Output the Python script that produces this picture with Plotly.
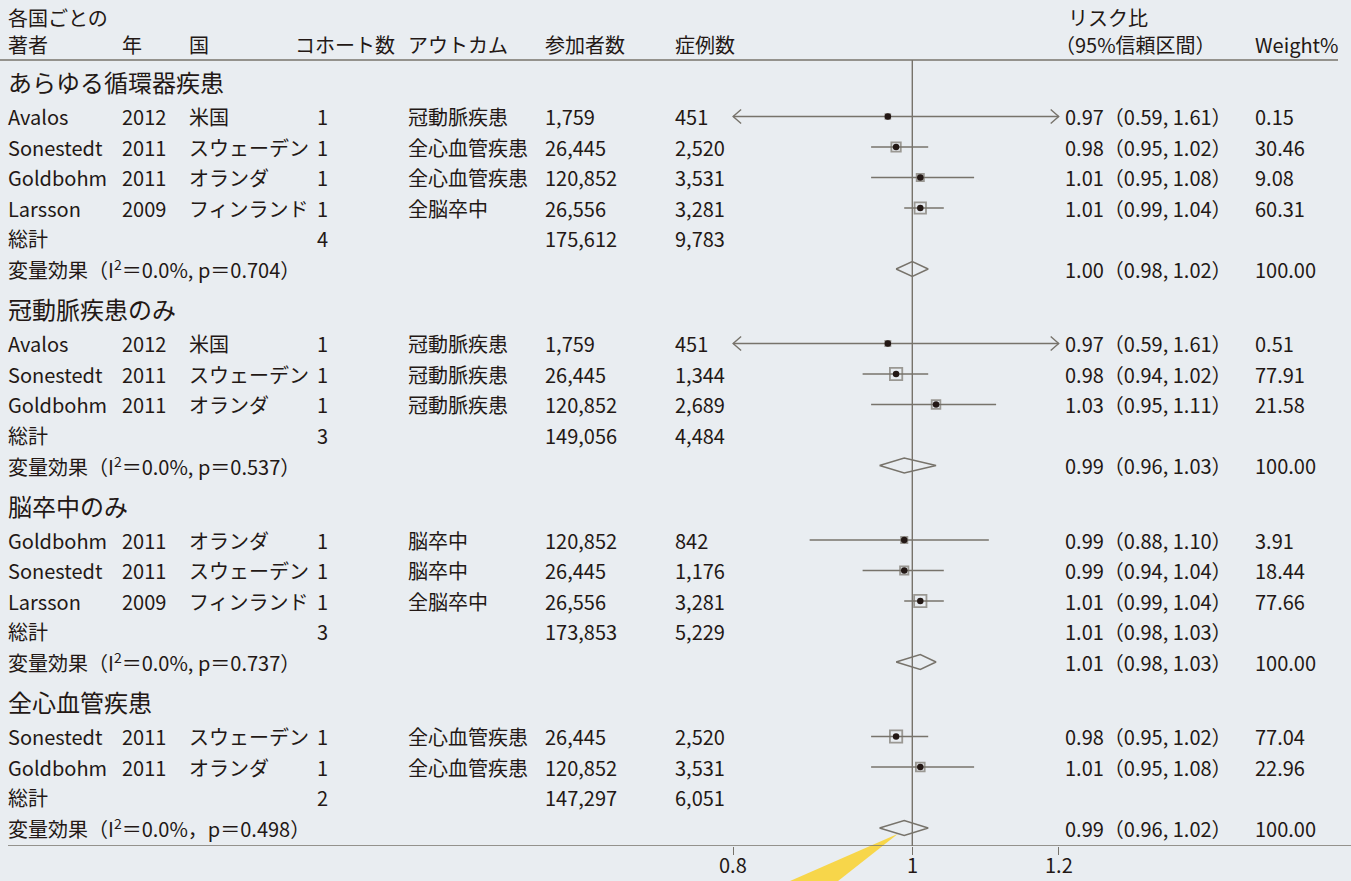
import math
import plotly.graph_objects as go

# ---------------------------------------------------------------- data
group_titles = ["あらゆる循環器疾患", "冠動脈疾患のみ", "脳卒中のみ", "全心血管疾患"]

g1_authors = ["Avalos", "Sonestedt", "Goldbohm", "Larsson"]
g1_years = ["2012", "2011", "2011", "2009"]
g1_countries = ["米国", "スウェーデン", "オランダ", "フィンランド"]
g1_cohorts = [1, 1, 1, 1]
g1_outcomes = ["冠動脈疾患", "全心血管疾患", "全心血管疾患", "全脳卒中"]
g1_participants = [1759, 26445, 120852, 26556]
g1_cases = [451, 2520, 3531, 3281]
g1_rr = [0.97, 0.98, 1.01, 1.01]
g1_lo = [0.59, 0.95, 0.95, 0.99]
g1_hi = [1.61, 1.02, 1.08, 1.04]
g1_weight = [0.15, 30.46, 9.08, 60.31]

g2_authors = ["Avalos", "Sonestedt", "Goldbohm"]
g2_years = ["2012", "2011", "2011"]
g2_countries = ["米国", "スウェーデン", "オランダ"]
g2_cohorts = [1, 1, 1]
g2_outcomes = ["冠動脈疾患", "冠動脈疾患", "冠動脈疾患"]
g2_participants = [1759, 26445, 120852]
g2_cases = [451, 1344, 2689]
g2_rr = [0.97, 0.98, 1.03]
g2_lo = [0.59, 0.94, 0.95]
g2_hi = [1.61, 1.02, 1.11]
g2_weight = [0.51, 77.91, 21.58]

g3_authors = ["Goldbohm", "Sonestedt", "Larsson"]
g3_years = ["2011", "2011", "2009"]
g3_countries = ["オランダ", "スウェーデン", "フィンランド"]
g3_cohorts = [1, 1, 1]
g3_outcomes = ["脳卒中", "脳卒中", "全脳卒中"]
g3_participants = [120852, 26445, 26556]
g3_cases = [842, 1176, 3281]
g3_rr = [0.99, 0.99, 1.01]
g3_lo = [0.88, 0.94, 0.99]
g3_hi = [1.10, 1.04, 1.04]
g3_weight = [3.91, 18.44, 77.66]

g4_authors = ["Sonestedt", "Goldbohm"]
g4_years = ["2011", "2011"]
g4_countries = ["スウェーデン", "オランダ"]
g4_cohorts = [1, 1]
g4_outcomes = ["全心血管疾患", "全心血管疾患"]
g4_participants = [26445, 120852]
g4_cases = [2520, 3531]
g4_rr = [0.98, 1.01]
g4_lo = [0.95, 0.95]
g4_hi = [1.02, 1.08]
g4_weight = [77.04, 22.96]

total_cohorts = [4, 3, 3, 2]
total_participants = [175612, 149056, 173853, 147297]
total_cases = [9783, 4484, 5229, 6051]
# only the stroke subgroup prints an estimate on its 総計 line
total_rr = [None, None, 1.01, None]
total_lo = [None, None, 0.98, None]
total_hi = [None, None, 1.03, None]

pooled_rr = [1.00, 0.99, 1.01, 0.99]
pooled_lo = [0.98, 0.96, 0.98, 0.96]
pooled_hi = [1.02, 1.03, 1.03, 1.02]
pooled_i2 = ["0.0", "0.0", "0.0", "0.0"]
pooled_p = ["0.704", "0.537", "0.737", "0.498"]
pooled_sep = [", ", ", ", ", ", "，"]

header_top = ["各国ごとの", "リスク比"]
header_cols = ["著者", "年", "国", "コホート数", "アウトカム", "参加者数", "症例数",
               "（95%信頼区間）", "Weight%"]

axis_ticks = [0.8, 1.0, 1.2]
axis_ticktext = ["0.8", "1", "1.2"]
clip_lo, clip_hi = 0.8, 1.2

groups = [
    (g1_authors, g1_years, g1_countries, g1_cohorts, g1_outcomes, g1_participants,
     g1_cases, g1_rr, g1_lo, g1_hi, g1_weight),
    (g2_authors, g2_years, g2_countries, g2_cohorts, g2_outcomes, g2_participants,
     g2_cases, g2_rr, g2_lo, g2_hi, g2_weight),
    (g3_authors, g3_years, g3_countries, g3_cohorts, g3_outcomes, g3_participants,
     g3_cases, g3_rr, g3_lo, g3_hi, g3_weight),
    (g4_authors, g4_years, g4_countries, g4_cohorts, g4_outcomes, g4_participants,
     g4_cases, g4_rr, g4_lo, g4_hi, g4_weight),
]

# ---------------------------------------------------------------- style / layout
W, H = 1351, 881
BG = "#E9EDF1"
INK = "#231815"
GREY = "#77736B"
YELLOW = "#F7D64A"
FONT = "Noto Sans CJK JP"
FS = 20
FS_TITLE = 24

AXIS_Y = 846          # pixel row of the x axis line
HEADER_LINE_Y = 60
X_ONE = 912.3         # pixel column of RR = 1
PX_PER_LN = 803.0     # pixels per unit of ln(RR)

# left edge of each text column, in pixels
COL_AUTHOR, COL_YEAR, COL_COUNTRY = 6, 120, 187
COL_COHORT_HDR, COL_COHORT = 293, 315
COL_OUTCOME, COL_PART, COL_CASES = 406, 543, 673
COL_RR, COL_RR_HDR, COL_WEIGHT = 1063, 1053, 1253

STEP = 30.5
TITLE_TO_ROW = 35.0
POOLED_TO_TITLE = 39.5
FIRST_TITLE_Y = 81.5


def px(v):
    return X_ONE + PX_PER_LN * math.log(v)


def annot(x_px, y, text, size=FS, anchor="left"):
    return dict(x=x_px / W, y=y, xref="paper", yref="y", text=text,
                showarrow=False, xanchor=anchor, yanchor="middle",
                font=dict(family=FONT, size=size, color=INK))


def rr_text(rr, lo, hi):
    return f"{rr:.2f}（{lo:.2f}, {hi:.2f}）"


annotations = []
ci_x, ci_y = [], []
box_x, box_y, box_s = [], [], []
dot_x, dot_y = [], []
dia_x, dia_y = [], []
chev_x, chev_y = [], []

# header
annotations.append(annot(COL_AUTHOR, 17, header_top[0]))
annotations.append(annot(COL_RR + 3, 17, header_top[1]))
hdr_pos = [COL_AUTHOR, COL_YEAR, COL_COUNTRY, COL_COHORT_HDR, COL_OUTCOME,
           COL_PART, COL_CASES, COL_RR_HDR, COL_WEIGHT]
for xp, t in zip(hdr_pos, header_cols):
    annotations.append(annot(xp, 44, t))

arm = 8.0 / PX_PER_LN
y = FIRST_TITLE_Y
last_pooled_y = None
for gi, g in enumerate(groups):
    (authors, years, countries, cohorts, outcomes, parts, cases,
     rr, lo, hi, weight) = g
    if gi > 0:
        y += POOLED_TO_TITLE
    annotations.append(annot(COL_AUTHOR, y, group_titles[gi], size=FS_TITLE))
    y += TITLE_TO_ROW
    for i in range(len(authors)):
        annotations += [
            annot(COL_AUTHOR, y, authors[i]),
            annot(COL_YEAR, y, years[i]),
            annot(COL_COUNTRY, y, countries[i]),
            annot(COL_COHORT, y, str(cohorts[i])),
            annot(COL_OUTCOME, y, outcomes[i]),
            annot(COL_PART, y, f"{parts[i]:,}"),
            annot(COL_CASES, y, f"{cases[i]:,}"),
            annot(COL_RR, y, rr_text(rr[i], lo[i], hi[i])),
            annot(COL_WEIGHT, y, f"{weight[i]:.2f}"),
        ]
        a, b = max(lo[i], clip_lo), min(hi[i], clip_hi)
        ci_x += [a, b, None]
        ci_y += [y, y, None]
        if lo[i] < clip_lo:
            chev_x += [a * math.exp(arm), a, a * math.exp(arm), None]
            chev_y += [y - 7, y, y + 7, None]
        if hi[i] > clip_hi:
            chev_x += [b * math.exp(-arm), b, b * math.exp(-arm), None]
            chev_y += [y - 7, y, y + 7, None]
        box_x.append(rr[i])
        box_y.append(y)
        box_s.append(4.5 + 0.89 * math.sqrt(weight[i]))
        dot_x.append(rr[i])
        dot_y.append(y)
        y += STEP
    # 総計
    annotations += [
        annot(COL_AUTHOR, y, "総計"),
        annot(COL_COHORT, y, str(total_cohorts[gi])),
        annot(COL_PART, y, f"{total_participants[gi]:,}"),
        annot(COL_CASES, y, f"{total_cases[gi]:,}"),
    ]
    if total_rr[gi] is not None:
        annotations.append(annot(COL_RR, y, rr_text(total_rr[gi], total_lo[gi], total_hi[gi])))
    y += STEP
    # 変量効果
    label = (f"変量効果（I<sup>2</sup>＝{pooled_i2[gi]}%{pooled_sep[gi]}"
             f"p＝{pooled_p[gi]}）")
    annotations += [
        annot(COL_AUTHOR, y, label),
        annot(COL_RR, y, rr_text(pooled_rr[gi], pooled_lo[gi], pooled_hi[gi])),
        annot(COL_WEIGHT, y, "100.00"),
    ]
    dia_x += [pooled_lo[gi], pooled_rr[gi], pooled_hi[gi], pooled_rr[gi], pooled_lo[gi], None]
    dia_y += [y, y - 7.5, y, y + 7.5, y, None]
    last_pooled_y = y

# x-axis tick labels, resting on the bottom edge of the page
for tv, tt in zip(axis_ticks, axis_ticktext):
    annotations.append(dict(x=px(tv) / W, xref="paper", y=0, yref="paper", text=tt,
                            showarrow=False, xanchor="center", yanchor="bottom",
                            font=dict(family=FONT, size=FS, color=INK)))

fig = go.Figure()
fig.add_trace(go.Scatter(x=ci_x, y=ci_y, mode="lines", hoverinfo="skip",
                         line=dict(color=GREY, width=1.5)))
fig.add_trace(go.Scatter(x=chev_x, y=chev_y, mode="lines", hoverinfo="skip",
                         line=dict(color=GREY, width=1.4)))
fig.add_trace(go.Scatter(x=box_x, y=box_y, mode="markers", hoverinfo="skip",
                         marker=dict(symbol="square-open", size=box_s, color=GREY,
                                     line=dict(width=1.8, color=GREY))))
fig.add_trace(go.Scatter(x=dot_x, y=dot_y, mode="markers", hoverinfo="skip",
                         marker=dict(symbol="circle", size=6.5, color=INK,
                                     line=dict(width=0))))
fig.add_trace(go.Scatter(x=dia_x, y=dia_y, mode="lines", hoverinfo="skip",
                         line=dict(color=GREY, width=1.4)))

# yellow call-out wedge pointing at the last pooled diamond
lx, cx = px(pooled_lo[-1]), px(pooled_rr[-1])
tip_x = lx + 0.75 * (cx - lx)
tip_y = last_pooled_y + 0.75 * 7.5
base_y = H
wedge = [(tip_x, tip_y), (tip_x - 108, base_y), (tip_x - 60, base_y)]
path = "M " + " L ".join(f"{xx / W:.5f},{(H - yy) / H:.5f}" for xx, yy in wedge) + " Z"

shapes = [
    dict(type="path", path=path, xref="paper", yref="paper", layer="below",
         fillcolor=YELLOW, line=dict(width=0)),
    dict(type="line", xref="paper", yref="y", x0=0, x1=1338 / W,
         y0=HEADER_LINE_Y, y1=HEADER_LINE_Y, line=dict(color=GREY, width=1.6)),
    dict(type="line", xref="paper", yref="y", x0=8 / W, x1=1,
         y0=AXIS_Y, y1=AXIS_Y, line=dict(color=GREY, width=1.6)),
    dict(type="line", xref="x", yref="y", x0=1, x1=1,
         y0=HEADER_LINE_Y, y1=AXIS_Y, line=dict(color=GREY, width=1.4)),
]

ln10 = math.log(10)
x_range = [-X_ONE / PX_PER_LN / ln10, (W - X_ONE) / PX_PER_LN / ln10]

fig.update_layout(
    width=W, height=H,
    margin=dict(l=0, r=0, t=0, b=0, autoexpand=False),
    paper_bgcolor=BG, plot_bgcolor="rgba(0,0,0,0)",
    showlegend=False,
    annotations=annotations,
    shapes=shapes,
    font=dict(family=FONT, size=FS, color=INK),
    xaxis=dict(type="log", range=x_range, showgrid=False, zeroline=False,
               showline=False, tickvals=axis_ticks, showticklabels=False,
               ticks="outside", ticklen=8, tickwidth=1.4, tickcolor=GREY,
               automargin=False, fixedrange=True),
    yaxis=dict(range=[AXIS_Y, 0], domain=[(H - AXIS_Y) / H, 1], visible=False,
               automargin=False, fixedrange=True),
)

fig.write_html("out.html")
